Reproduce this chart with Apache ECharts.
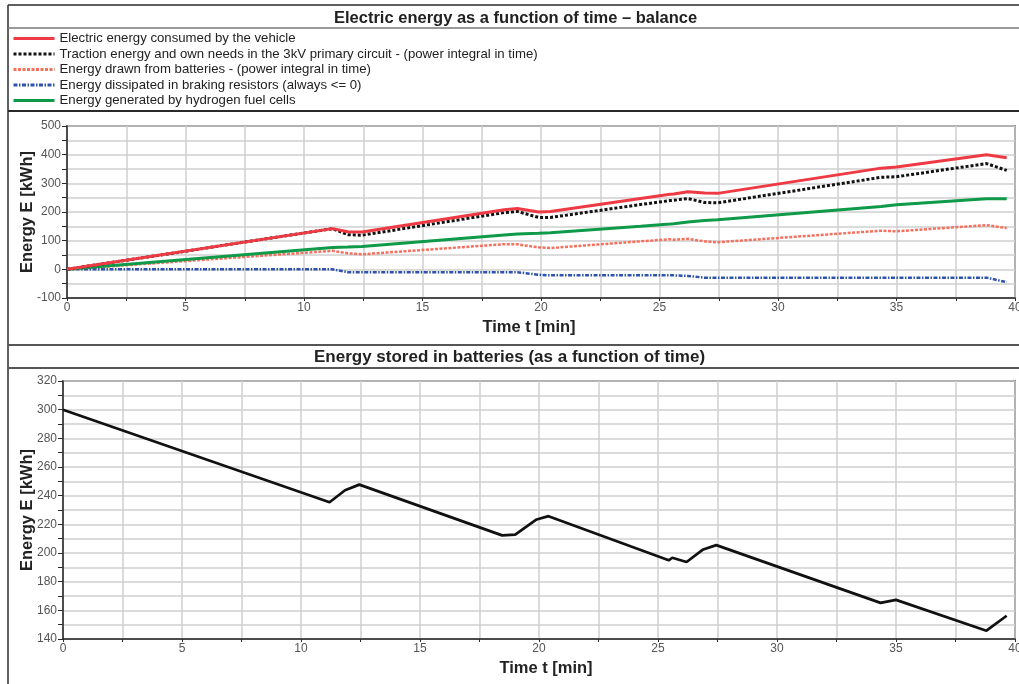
<!DOCTYPE html>
<html>
<head>
<meta charset="utf-8">
<title>Electric energy balance</title>
<script src="https://cdn.jsdelivr.net/npm/echarts@6/dist/echarts.min.js"></script>
<style>
  html, body { margin: 0; padding: 0; background: #fff; }
  #chart { width: 1019px; height: 684px; }
</style>
</head>
<body>
<div id="chart"></div>
<script>
// Time samples [min] shared by the five balance curves
const timeMin = [0, 11.2, 11.85, 12.45, 18.45, 19.0, 19.9, 20.4, 24.2, 25.45, 25.6, 26.2, 26.9, 27.45, 34.35, 35.0, 38.8, 39.65];

// Energy [kWh] of each balance component at those times
const consumedEnergy   = [0, 142, 131, 130, 208, 212, 200, 202, 247, 262, 263, 271, 266, 265, 353, 357, 400, 389];
const tractionEnergy   = [0, 142, 121, 119, 198, 202, 181, 181, 226, 240, 241, 247, 233, 232, 321, 323, 369, 345];
const batteryDrawn     = [0, 64.6, 56, 52.5, 87.7, 87.2, 76.6, 74.3, 97.7, 105, 103.3, 106.3, 97.5, 94.5, 134.8, 132.7, 154.2, 143.8];
const brakingEnergy    = [0, 0, -10, -10, -10, -10, -19, -21, -21, -21, -21, -23, -29, -29, -29, -29, -29, -45];
const fuelCellEnergy   = [0, 76, 77.5, 79.5, 120, 123, 126, 128, 150, 158, 159, 165, 170, 173, 219, 225, 246, 246];

// Battery state of energy [kWh]
const storageTime   = [0, 11.2, 11.85, 12.45, 18.45, 19.0, 19.9, 20.4, 25.45, 25.6, 26.2, 26.9, 27.45, 34.35, 35.0, 38.8, 39.65];
const storedEnergy  = [300, 235.4, 243.8, 247.7, 212.3, 212.8, 223.4, 225.7, 194.9, 196.7, 193.7, 202.5, 205.5, 165.2, 167.3, 145.8, 156.2];

// Legend / series names
const seriesNames = [
  'Electric energy consumed by the vehicle',
  'Traction energy and own needs in the 3kV primary circuit - (power integral in time)',
  'Energy drawn from batteries - (power integral in time)',
  'Energy dissipated in braking resistors (always <= 0)',
  'Energy generated by hydrogen fuel cells'
];

const zip = (xs, ys) => xs.map((x, i) => [x, ys[i]]);

const FONT = '"Liberation Sans", Arial, sans-serif';
const gridLine = { show: true, lineStyle: { color: '#cfcfcf', width: 1.5 } };
const axisLineStyle = { show: true, onZero: false, lineStyle: { color: '#2a2a2a', width: 1.5 } };
const tickLabel = { color: '#555', fontSize: 12, fontFamily: FONT };
const axisName = { color: '#222', fontSize: 16.5, fontWeight: 'bold', fontFamily: FONT };

function timeAxis(gridIndex, namePadding) {
  return {
    type: 'value', gridIndex, min: 0, max: 40, interval: 2.5,
    name: 'Time t [min]', nameLocation: 'middle', nameGap: 21, nameMoveOverlap: false,
    nameTextStyle: Object.assign({ padding: namePadding }, axisName),
    axisLine: axisLineStyle,
    axisTick: { show: true, length: 3, lineStyle: { color: '#2a2a2a' } },
    axisLabel: Object.assign({ margin: 4, formatter: v => (v % 5 === 0 ? String(v) : '') }, tickLabel),
    splitLine: gridLine
  };
}

function energyAxis(gridIndex, min, max, step, labelStep, gap) {
  return {
    type: 'value', gridIndex, min, max, interval: step,
    name: 'Energy E [kWh]', nameLocation: 'middle', nameGap: gap, nameMoveOverlap: false,
    nameTextStyle: axisName,
    axisLine: axisLineStyle,
    axisTick: { show: true, length: 5, lineStyle: { color: '#2a2a2a' } },
    axisLabel: Object.assign({ margin: 6, formatter: v => (v % labelStep === 0 ? String(v) : '') }, tickLabel),
    splitLine: gridLine
  };
}

const lineSeries = (name, data, color, width, type, z) => ({
  name, type: 'line', xAxisIndex: 0, yAxisIndex: 0, data,
  showSymbol: false, symbol: 'none', smooth: false, z,
  lineStyle: { color, width, type },
  itemStyle: { color }
});

const chart = echarts.init(document.getElementById('chart'), null, { renderer: 'canvas' });

chart.setOption({
  backgroundColor: '#ffffff',
  animation: false,
  textStyle: { fontFamily: FONT },
  title: [
    { text: 'Electric energy as a function of time – balance', left: 329, top: 5,
      textStyle: { fontSize: 16.5, fontWeight: 'bold', color: '#222', fontFamily: FONT } },
    { text: 'Energy stored in batteries (as a function of time)', left: 309, top: 344,
      textStyle: { fontSize: 17, fontWeight: 'bold', color: '#222', fontFamily: FONT } }
  ],
  legend: {
    orient: 'vertical', left: 12, top: 31.5, padding: 0,
    itemWidth: 41, itemHeight: 14, itemGap: 1.5,
    data: seriesNames, selectedMode: false,
    itemStyle: { opacity: 0 },
    lineStyle: { width: 3 },
    textStyle: { fontSize: 13.2, lineHeight: 14, color: '#222', fontFamily: FONT }
  },
  grid: [
    { left: 67, right: 4, top: 126, height: 172, show: true, borderColor: '#2a2a2a', borderWidth: 1.5,
      backgroundColor: 'transparent', outerBoundsMode: 'none', containLabel: false },
    { left: 63, right: 4, top: 381, height: 258, show: true, borderColor: '#2a2a2a', borderWidth: 1.5,
      backgroundColor: 'transparent', outerBoundsMode: 'none', containLabel: false }
  ],
  xAxis: [timeAxis(0, [0, 24, 0, 0]), timeAxis(1, [0, 0, 0, 14])],
  yAxis: [
    energyAxis(0, -100, 500, 50, 100, 31),
    energyAxis(1, 140, 320, 10, 20, 27)
  ],
  series: [
    lineSeries(seriesNames[0], zip(timeMin, consumedEnergy), '#ee3a43', 3, 'solid', 5),
    lineSeries(seriesNames[1], zip(timeMin, tractionEnergy), '#111111', 3, [3, 2], 4),
    lineSeries(seriesNames[2], zip(timeMin, batteryDrawn), '#f4705f', 2.5, [3, 1.5], 3),
    lineSeries(seriesNames[3], zip(timeMin, brakingEnergy), '#2f52ad', 2.5, [4, 1.5, 1.5, 1.5], 3),
    lineSeries(seriesNames[4], zip(timeMin, fuelCellEnergy), '#0e9a48', 3, 'solid', 3),
    {
      name: 'Energy stored in batteries', type: 'line', xAxisIndex: 1, yAxisIndex: 1,
      data: zip(storageTime, storedEnergy), showSymbol: false, symbol: 'none',
      lineStyle: { color: '#111', width: 2.7 }
    }
  ],
  graphic: [
    // outer frame and panel separators
    { type: 'line', shape: { x1: 8, y1: 5, x2: 1019, y2: 5 }, style: { stroke: '#2a2a2a', lineWidth: 1.5 } },
    { type: 'line', shape: { x1: 8, y1: 5, x2: 8, y2: 684 }, style: { stroke: '#2a2a2a', lineWidth: 1.5 } },
    { type: 'line', shape: { x1: 8, y1: 28, x2: 1019, y2: 28 }, style: { stroke: '#777', lineWidth: 1.5 } },
    { type: 'line', shape: { x1: 8, y1: 111, x2: 1019, y2: 111 }, style: { stroke: '#2a2a2a', lineWidth: 2 } },
    { type: 'line', shape: { x1: 8, y1: 345, x2: 1019, y2: 345 }, style: { stroke: '#555', lineWidth: 2 } },
    { type: 'line', shape: { x1: 8, y1: 368, x2: 1019, y2: 368 }, style: { stroke: '#555', lineWidth: 2 } }
  ]
});
</script>
</body>
</html>
